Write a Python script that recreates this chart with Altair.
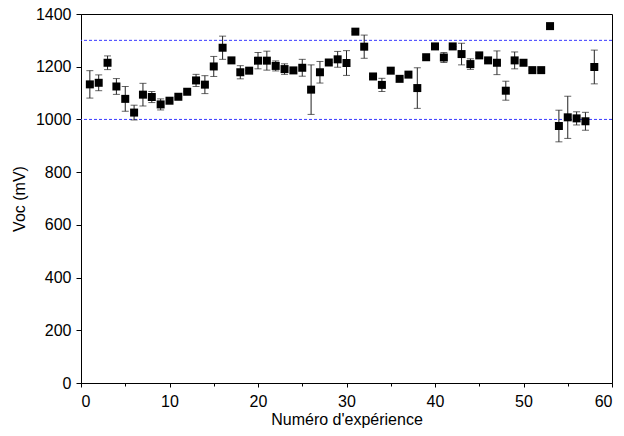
import altair as alt
import pandas as pd

experiment = list(range(1, 59))
voc = [1133, 1139, 1215, 1125, 1078, 1026, 1094, 1085, 1057, 1071,
       1086, 1105, 1148, 1132, 1201, 1272, 1224, 1179, 1185, 1223,
       1223, 1203, 1191, 1186, 1196, 1113, 1179, 1216, 1228, 1214,
       1333, 1276, 1163, 1131, 1185, 1154, 1170, 1119, 1236, 1277,
       1235, 1277, 1248, 1210, 1243, 1224, 1215, 1109, 1224, 1215,
       1187, 1187, 1354, 975, 1008, 1004, 993, 1199]
err = [52, 30, 26, 30, 47, 28, 43, 21, 21, 0,
       0, 0, 23, 34, 38, 44, 0, 25, 0, 31,
       36, 19, 20, 0, 32, 94, 41, 0, 30, 47,
       0, 44, 0, 25, 0, 0, 0, 77, 0, 0,
       19, 0, 41, 20, 0, 0, 45, 36, 32, 0,
       0, 0, 0, 60, 80, 25, 34, 64]
ref_lines = [1000, 1300]
x_ticks = list(range(0, 61, 5))
y_ticks = list(range(0, 1401, 100))

df = pd.DataFrame({"n": experiment, "voc": voc, "err": err})
df["lo"] = df["voc"] - df["err"]
df["hi"] = df["voc"] + df["err"]
ref_df = pd.DataFrame({"y": ref_lines})

xscale = alt.Scale(domain=[0, 60], nice=False, zero=False)
yscale = alt.Scale(domain=[0, 1400], nice=False)

x_axis = alt.Axis(
    values=x_ticks, title="Numéro d'expérience", grid=False, format="d",
    labelExpr="datum.value % 10 === 0 ? datum.label : ''",
    tickSize={"condition": {"test": "datum.value % 10 === 0", "value": 4}, "value": 3},
    labelPadding=6, titlePadding=2,
)
y_axis = alt.Axis(
    values=y_ticks, title="Voc (mV)", grid=False, format="d",
    labelExpr="datum.value % 200 === 0 ? datum.label : ''",
    tickSize={"condition": {"test": "datum.value % 200 === 0", "value": 5}, "value": 3},
    labelPadding=5, titlePadding=8,
)

base = alt.Chart(df)

bars = base.mark_rule(color="#222222", strokeWidth=1).encode(
    x=alt.X("n:Q", scale=xscale, axis=x_axis),
    y=alt.Y("lo:Q", scale=yscale, axis=y_axis),
    y2="hi:Q",
)
caps_lo = base.mark_tick(color="#222222", orient="horizontal", size=7, thickness=1).encode(
    x=alt.X("n:Q", scale=xscale), y=alt.Y("lo:Q", scale=yscale)
)
caps_hi = base.mark_tick(color="#222222", orient="horizontal", size=7, thickness=1).encode(
    x=alt.X("n:Q", scale=xscale), y=alt.Y("hi:Q", scale=yscale)
)
refs = alt.Chart(ref_df).mark_rule(color="#3a3aff", strokeDash=[3, 2], strokeWidth=1).encode(
    y=alt.Y("y:Q", scale=yscale)
)
points = base.mark_point(shape="square", filled=True, color="black", size=64, opacity=1).encode(
    x=alt.X("n:Q", scale=xscale), y=alt.Y("voc:Q", scale=yscale)
)

chart = alt.layer(refs, bars, caps_lo, caps_hi, points).properties(
    width=531, height=369,
    autosize=alt.AutoSizeParams(type="none"),
    padding={"left": 73, "top": 6, "right": 4, "bottom": 45},
).configure(
    font="Liberation Sans",
).configure_view(
    stroke="black", strokeWidth=1,
).configure_axis(
    labelFontSize=16, titleFontSize=16, titleFontWeight="normal",
    labelColor="black", titleColor="black", domainColor="black",
    tickColor="black", labelFont="Liberation Sans", titleFont="Liberation Sans",
)

chart.save("out.html", embed_options={"renderer": "svg", "actions": False})
